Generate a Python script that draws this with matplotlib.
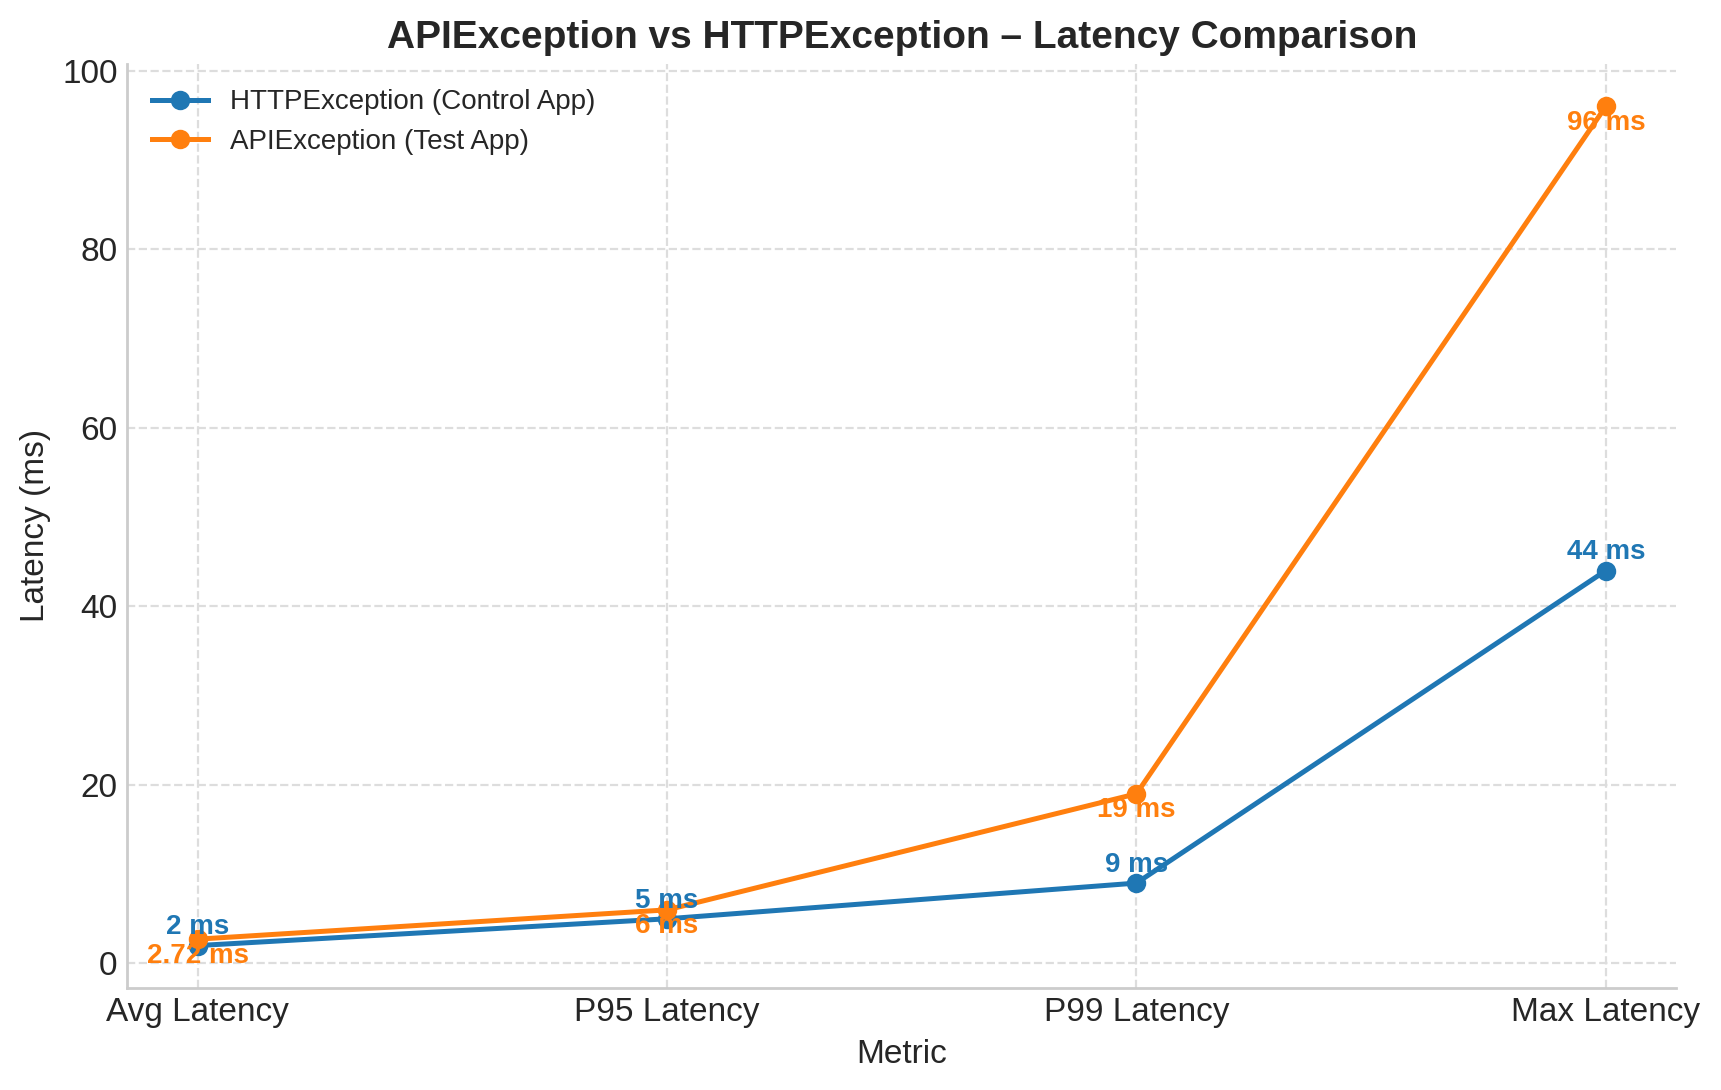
import matplotlib
matplotlib.use("Agg")
import matplotlib.pyplot as plt


METRICS = ["Avg Latency", "P95 Latency", "P99 Latency", "Max Latency"]
HTTP_LATENCY = [2, 5, 9, 44]
API_LATENCY = [2.72, 6, 19, 96]

HTTP_LABEL = "HTTPException (Control App)"
API_LABEL = "APIException (Test App)"

TEXT_COLOR = "#262626"
BLUE = "#1f77b4"
ORANGE = "#ff7f0e"

plt.rcParams["font.family"] = ["Liberation Sans", "DejaVu Sans"]
plt.rcParams["text.color"] = TEXT_COLOR
plt.rcParams["axes.labelcolor"] = TEXT_COLOR
plt.rcParams["xtick.color"] = TEXT_COLOR
plt.rcParams["ytick.color"] = TEXT_COLOR


def fmt(v):
    return f"{v:g} ms"


def main():
    fig, ax = plt.subplots(figsize=(8.605, 5.45), dpi=200)
    fig.subplots_adjust(left=0.074, right=0.974, top=0.941, bottom=0.094)

    x = list(range(len(METRICS)))

    ax.plot(x, HTTP_LATENCY, marker="o", linewidth=1.8, markersize=6,
            color=BLUE, label=HTTP_LABEL)
    ax.plot(x, API_LATENCY, marker="o", linewidth=1.8, markersize=6,
            color=ORANGE, label=API_LABEL)

    # blue labels above the points, orange ones below
    for xi, v in zip(x, HTTP_LATENCY):
        ax.annotate(fmt(v), (xi, v), xytext=(0, 4), textcoords="offset points",
                    ha="center", va="baseline", fontsize=10, fontweight="bold",
                    color=BLUE)
    for xi, v in zip(x, API_LATENCY):
        ax.annotate(fmt(v), (xi, v), xytext=(0, -8.5), textcoords="offset points",
                    ha="center", va="baseline", fontsize=10, fontweight="bold",
                    color=ORANGE)

    ax.set_xticks(x)
    ax.set_xticklabels(METRICS)
    ax.tick_params(axis="both", length=0, pad=3.5, labelsize=12)

    ax.set_title("APIException vs HTTPException \u2013 Latency Comparison",
                 fontsize=14, fontweight="bold", pad=6)
    ax.set_xlabel("Metric", fontsize=12)
    ax.set_ylabel("Latency (ms)", fontsize=12)

    ax.grid(True, linestyle="--", color="#dddddd", linewidth=0.8)
    ax.set_axisbelow(True)

    for side in ["top", "right"]:
        ax.spines[side].set_visible(False)
    for side in ["left", "bottom"]:
        ax.spines[side].set_color("#cccccc")
        ax.spines[side].set_linewidth(1.0)

    ax.legend(loc="upper left", frameon=False, fontsize=10)

    fig.savefig("out.png", dpi=200)
    plt.close(fig)


if __name__ == "__main__":
    main()
